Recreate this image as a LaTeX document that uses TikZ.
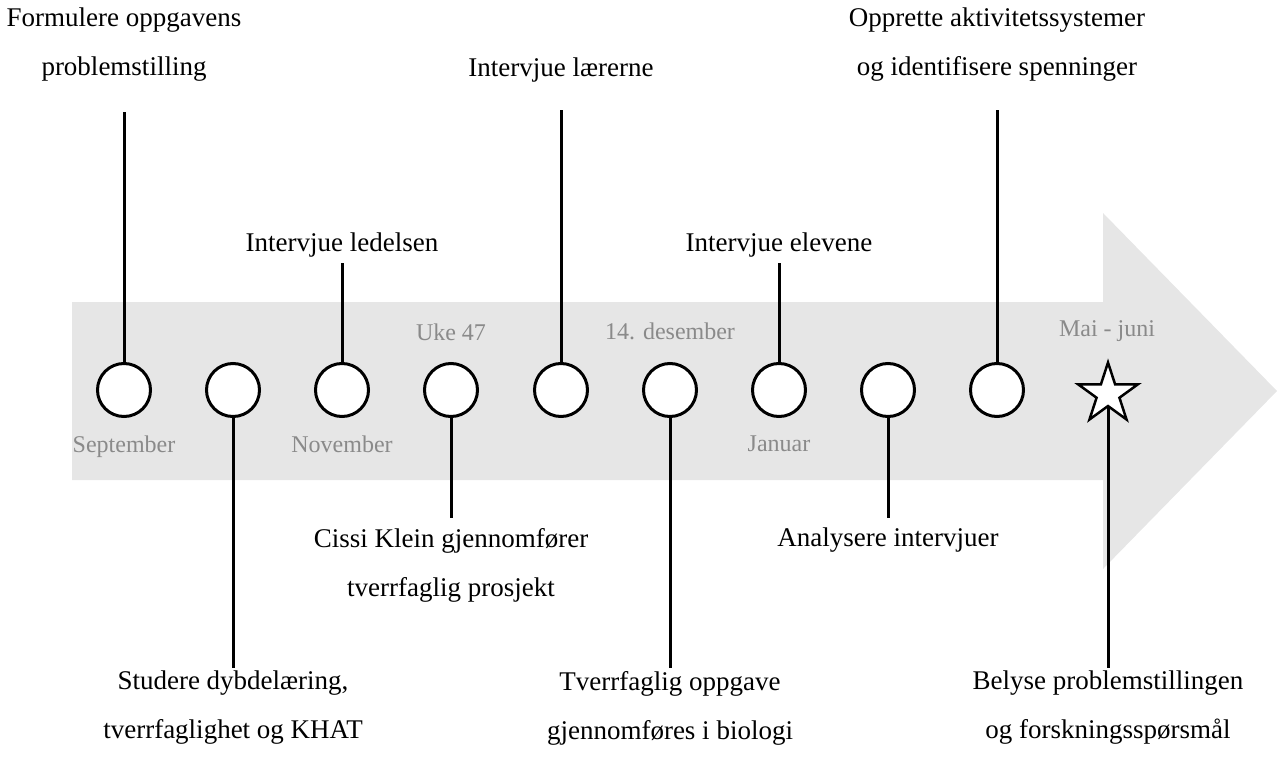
\documentclass[tikz,border=0pt]{standalone}
\usepackage{fontspec}
\setmainfont{Liberation Serif}
\usetikzlibrary{shapes.geometric}
\definecolor{band}{HTML}{E6E6E6}
\definecolor{datecol}{HTML}{8A8A8A}
\begin{document}
\begin{tikzpicture}[x=1pt,y=-1pt,
  event/.style={circle,draw=black,fill=white,line width=3pt,minimum size=53pt,inner sep=0pt},
  goal/.style={star,star points=5,star point ratio=2.618,draw=black,fill=white,line width=2.5pt,minimum size=63pt,inner sep=0pt},
  link/.style={line width=3pt},
  task/.style={align=center,font=\fontsize{27}{49}\selectfont,inner sep=0pt},
  date/.style={text=datecol,font=\fontsize{24}{28}\selectfont,inner sep=0pt}]
\useasboundingbox (0,0) rectangle (1277,765);

% timeline band
\fill[band] (72,302) -- (1103,302) -- (1103,213) -- (1277,391) -- (1103,569) -- (1103,480) -- (72,480) -- cycle;

% dates
\node[date] (dsep) at (124,447) {September};
\node[date] (dnov) at (342,444) {November};
\node[date] (duke) at (451,332) {Uke 47};
\node[date] (ddes) at (670,331) {14. desember};
\node[date] (djan) at (779,444) {Januar};
\node[date] (dmai) at (1107,331) {Mai - juni};

% milestones
\foreach \i/\x in {1/124,2/233,3/342,4/451,5/561,6/670,7/779,8/888,9/997}
  \node[event] (e\i) at (\x,390) {};
\node[goal] (e10) at (1108,394) {};

% connector ends
\coordinate (t1) at (124,112);
\coordinate (t2) at (233,668);
\coordinate (t3) at (342,263);
\coordinate (t4) at (451,518);
\coordinate (t5) at (561,110);
\coordinate (t6) at (670,668);
\coordinate (t7) at (779,263);
\coordinate (t8) at (888,518);
\coordinate (t9) at (997,110);
\coordinate (t10) at (1108,668);
\foreach \i in {1,...,10}
  \draw[link] (e\i) -- (t\i);

% tasks
\node[task] (a1) at (124,45) {Formulere oppgavens\\problemstilling};
\node[task] (a2) at (233,708) {Studere dybdelæring,\\tverrfaglighet og KHAT};
\node[task] (a3) at (342,245) {Intervjue ledelsen};
\node[task] (a4) at (451,565) {Cissi Klein gjennomfører\\tverrfaglig prosjekt};
\node[task] (a5) at (561,70) {Intervjue lærerne};
\node[task] (a6) at (670,708) {Tverrfaglig oppgave\\gjennomføres i biologi};
\node[task] (a7) at (779,245) {Intervjue elevene};
\node[task] (a8) at (888,540) {Analysere intervjuer};
\node[task] (a9) at (997,45) {Opprette aktivitetssystemer\\og identifisere spenninger};
\node[task] (a10) at (1108,708) {Belyse problemstillingen\\og forskningsspørsmål};
\end{tikzpicture}
\end{document}
